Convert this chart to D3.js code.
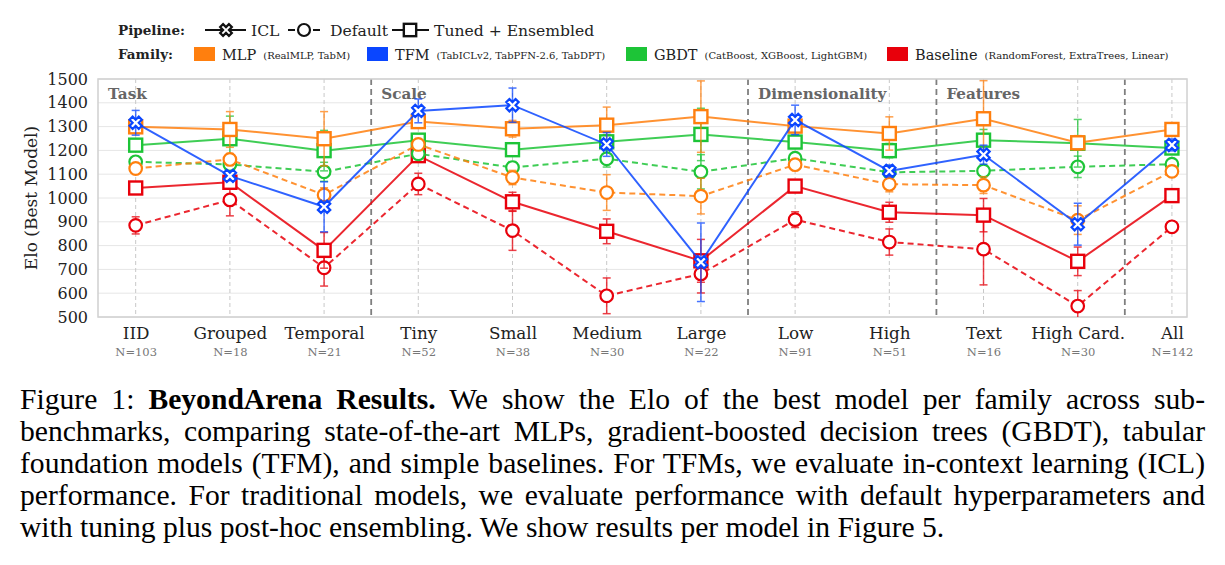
<!DOCTYPE html>
<html>
<head>
<meta charset="utf-8">
<script src="https://cdn.jsdelivr.net/npm/d3@7"></script>
<style>
  body { margin: 0; background: #fff; }
  #wrap { position: relative; width: 1225px; height: 565px; overflow: hidden; }
  #chart { position: absolute; left: 0; top: 0; }
  #caption { position: absolute; left: 20px; top: 383px; width: 1185px;
    font-family: "Liberation Serif", "Times New Roman", serif; font-size: 29.6px; line-height: 32px; color: #000; }
  #caption div { text-align: justify; text-align-last: justify; white-space: nowrap; }
  #caption div.last { text-align-last: left; }
</style>
</head>
<body>
<div id="wrap">
  <svg id="chart" width="1225" height="380"></svg>
  <div id="caption">
    <div>Figure 1: <b>BeyondArena Results.</b> We show the Elo of the best model per family across sub-</div>
    <div>benchmarks, comparing state-of-the-art MLPs, gradient-boosted decision trees (GBDT), tabular</div>
    <div>foundation models (TFM), and simple baselines. For TFMs, we evaluate in-context learning (ICL)</div>
    <div>performance. For traditional models, we evaluate performance with default hyperparameters and</div>
    <div class="last">with tuning plus post-hoc ensembling. We show results per model in Figure 5.</div>
  </div>
</div>
<script>
// categories and sample counts
const categories = ["IID", "Grouped", "Temporal", "Tiny", "Small", "Medium", "Large", "Low", "High", "Text", "High Card.", "All"];
const counts = [103, 18, 21, 52, 38, 30, 22, 91, 51, 16, 30, 142];

// Elo values (value, +/- error)
const mlpTuned       = [1299, 1288, 1249, 1321, 1291, 1306, 1342, 1302, 1271, 1333, 1232, 1288];
const mlpTunedErr    = [20, 75, 114, 25, 35, 76, 150, 20, 70, 160, 30, 25];
const mlpDefault     = [1124, 1162, 1013, 1225, 1086, 1023, 1008, 1140, 1058, 1054, 907, 1112];
const mlpDefaultErr  = [20, 25, 30, 20, 30, 75, 75, 20, 32, 35, 60, 20];
const tfmIcl         = [1316, 1093, 963, 1366, 1390, 1225, 730, 1328, 1114, 1182, 890, 1223];
const tfmIclErr      = [52, 20, 105, 50, 72, 50, 165, 62, 25, 40, 88, 25];
const gbdtTuned      = [1222, 1249, 1199, 1243, 1203, 1236, 1267, 1235, 1199, 1243, 1230, 1210];
const gbdtTunedErr   = [15, 95, 85, 25, 25, 30, 110, 20, 30, 45, 100, 15];
const gbdtDefault    = [1152, 1141, 1110, 1186, 1128, 1165, 1110, 1167, 1108, 1114, 1131, 1142];
const gbdtDefaultErr = [15, 30, 40, 15, 25, 35, 72, 15, 25, 20, 45, 15];
const baseTuned      = [1042, 1066, 780, 1178, 984, 860, 736, 1050, 940, 928, 734, 1010];
const baseTunedErr   = [15, 20, 75, 20, 40, 52, 90, 25, 42, 70, 60, 15];
const baseDefault    = [885, 992, 707, 1059, 863, 589, 681, 909, 815, 785, 546, 879];
const baseDefaultErr = [36, 67, 77, 45, 83, 75, 80, 33, 55, 150, 65, 20];

const yTicks = [500, 600, 700, 800, 900, 1000, 1100, 1200, 1300, 1400, 1500];
const sections = [["Task", -0.4], ["Scale", 2.5], ["Dimensionality", 6.5], ["Features", 8.5]];
const dividers = [2.5, 6.5, 8.5, 10.5];

const families = [
  { name: "MLP", sub: "(RealMLP, TabM)", color: "#ff7f0e" },
  { name: "TFM", sub: "(TabICLv2, TabPFN-2.6, TabDPT)", color: "#0a46ff" },
  { name: "GBDT", sub: "(CatBoost, XGBoost, LightGBM)", color: "#1dc437" },
  { name: "Baseline", sub: "(RandomForest, ExtraTrees, Linear)", color: "#e8000b" }
];
const pipelines = [
  { name: "ICL", marker: "x", dash: null },
  { name: "Default", marker: "o", dash: "6,4" },
  { name: "Tuned + Ensembled", marker: "s", dash: null }
];

// drawing order: baseline first, TFM on top
const series = [
  { fam: 3, pipe: 1, vals: baseDefault, err: baseDefaultErr },
  { fam: 3, pipe: 2, vals: baseTuned, err: baseTunedErr },
  { fam: 2, pipe: 1, vals: gbdtDefault, err: gbdtDefaultErr },
  { fam: 2, pipe: 2, vals: gbdtTuned, err: gbdtTunedErr },
  { fam: 0, pipe: 1, vals: mlpDefault, err: mlpDefaultErr },
  { fam: 0, pipe: 2, vals: mlpTuned, err: mlpTunedErr },
  { fam: 1, pipe: 0, vals: tfmIcl, err: tfmIclErr }
];

const serif = "'DejaVu Serif', serif";
const plotL = 98, plotR = 1187, plotT = 79, plotB = 317;

const svg = d3.select("#chart");

const x = d3.scaleLinear().domain([-0.4, 11.16]).range([plotL, plotR]);
const y = d3.scaleLinear().domain([500, 1500]).range([plotB, plotT]);

// grid
svg.append("g").selectAll("line").data(yTicks).enter().append("line")
  .attr("x1", plotL).attr("x2", plotR)
  .attr("y1", d => y(d)).attr("y2", d => y(d))
  .attr("stroke", "#e6e6e6").attr("stroke-width", 1);

svg.append("g").selectAll("line").data(d3.range(categories.length)).enter().append("line")
  .attr("x1", d => x(d)).attr("x2", d => x(d))
  .attr("y1", plotT).attr("y2", plotB)
  .attr("stroke", "#c8c8c8").attr("stroke-width", 1).attr("stroke-dasharray", "4,3");

// section dividers
svg.append("g").selectAll("line").data(dividers).enter().append("line")
  .attr("x1", d => x(d)).attr("x2", d => x(d))
  .attr("y1", plotT).attr("y2", plotB)
  .attr("stroke", "#7f7f7f").attr("stroke-width", 1.8).attr("stroke-dasharray", "6,4");

svg.append("g").selectAll("text").data(sections).enter().append("text")
  .attr("x", d => x(d[1]) + 10).attr("y", plotT + 20)
  .style("font", "bold 15.2px " + serif).attr("fill", "#666")
  .text(d => d[0]);

// frame
svg.append("rect")
  .attr("x", plotL).attr("y", plotT).attr("width", plotR - plotL).attr("height", plotB - plotT)
  .attr("fill", "none").attr("stroke", "#d0d0d0").attr("stroke-width", 1.5);

// y axis
const yAxis = svg.append("g")
  .attr("transform", "translate(" + plotL + ",0)")
  .call(d3.axisLeft(y).tickValues(yTicks).tickSize(0).tickPadding(10).tickFormat(d3.format("d")));
yAxis.select(".domain").remove();
yAxis.selectAll("text").style("font", "16px " + serif).attr("fill", "#222");

svg.append("text")
  .attr("transform", "translate(37," + ((plotT + plotB) / 2) + ") rotate(-90)")
  .attr("text-anchor", "middle")
  .style("font", "17px " + serif).attr("fill", "#222")
  .text("Elo (Best Model)");

// x axis with N= sub labels
const xAxis = svg.append("g")
  .attr("transform", "translate(0," + plotB + ")")
  .call(d3.axisBottom(x).tickValues(d3.range(categories.length)).tickSize(0).tickPadding(10)
    .tickFormat(i => categories[i]));
xAxis.select(".domain").remove();
xAxis.selectAll("text").style("font", "16.8px " + serif).attr("fill", "#222");
xAxis.selectAll(".tick").append("text")
  .attr("y", 39).attr("fill", "#777")
  .style("font", "11.5px " + serif)
  .text(i => "N=" + counts[i]);

// marker helper
function drawMarker(g, type, color, cx, cy, scale) {
  const k = scale || 1;
  if (type === "s") {
    g.append("rect")
      .attr("x", cx - 6.5 * k).attr("y", cy - 6.5 * k)
      .attr("width", 13 * k).attr("height", 13 * k)
      .attr("fill", "#fff").attr("stroke", color).attr("stroke-width", 2.4);
  } else if (type === "o") {
    g.append("circle")
      .attr("cx", cx).attr("cy", cy).attr("r", 6.3 * k)
      .attr("fill", "#fff").attr("stroke", color).attr("stroke-width", 2.2);
  } else {
    g.append("path")
      .attr("d", d3.symbol(d3.symbolCross, 95 * k * k)())
      .attr("transform", "translate(" + cx + "," + cy + ") rotate(45)")
      .attr("fill", "#fff").attr("stroke", color).attr("stroke-width", 2.2)
      .attr("stroke-linejoin", "miter");
  }
}

const line = d3.line().x((d, i) => x(i)).y(d => y(d));

series.forEach(s => {
  const color = families[s.fam].color;
  const pipe = pipelines[s.pipe];
  const g = svg.append("g");

  // error bars
  const eb = g.append("g").attr("stroke", color).attr("stroke-width", 1.5).attr("opacity", 0.75);
  s.vals.forEach((v, i) => {
    const x0 = x(i), y1 = y(v + s.err[i]), y2 = y(Math.max(500, v - s.err[i]));
    eb.append("line").attr("x1", x0).attr("x2", x0).attr("y1", y1).attr("y2", y2);
    eb.append("line").attr("x1", x0 - 4).attr("x2", x0 + 4).attr("y1", y1).attr("y2", y1);
    if (v - s.err[i] >= 500) {
      eb.append("line").attr("x1", x0 - 4).attr("x2", x0 + 4).attr("y1", y2).attr("y2", y2);
    }
  });

  g.append("path")
    .attr("d", line(s.vals))
    .attr("fill", "none").attr("stroke", color).attr("stroke-width", 2)
    .attr("stroke-opacity", 0.85)
    .attr("stroke-dasharray", pipe.dash);

  s.vals.forEach((v, i) => drawMarker(g, pipe.marker, color, x(i), y(v)));
});

// legend: pipeline row
const legend = svg.append("g");
legend.append("text").attr("x", 118).attr("y", 35)
  .style("font", "bold 13.5px " + serif).attr("fill", "#222").text("Pipeline:");

const pipeLegend = [
  { p: 0, x1: 205, x2: 246, mx: 226, tx: 251 },
  { p: 1, x1: 288, x2: 320, mx: 304, tx: 330 },
  { p: 2, x1: 392, x2: 429, mx: 410, tx: 434 }
];
pipeLegend.forEach(d => {
  const pipe = pipelines[d.p];
  if (pipe.dash) {
    legend.append("line").attr("x1", d.x1).attr("x2", d.x1 + 7).attr("y1", 30).attr("y2", 30)
      .attr("stroke", "#111").attr("stroke-width", 2);
    legend.append("line").attr("x1", d.x2 - 7).attr("x2", d.x2).attr("y1", 30).attr("y2", 30)
      .attr("stroke", "#111").attr("stroke-width", 2);
  } else {
    legend.append("line").attr("x1", d.x1).attr("x2", d.x2).attr("y1", 30).attr("y2", 30)
      .attr("stroke", "#111").attr("stroke-width", 2);
  }
  drawMarker(legend, pipe.marker, "#111", d.mx, 30, 0.95);
  legend.append("text").attr("x", d.tx).attr("y", 35.5)
    .style("font", "15.6px " + serif).attr("fill", "#222").text(pipe.name);
});

// legend: family row
legend.append("text").attr("x", 118).attr("y", 59)
  .style("font", "bold 13.5px " + serif).attr("fill", "#222").text("Family:");

const swatchX = [194, 367, 626, 887];
families.forEach((f, i) => {
  legend.append("rect").attr("x", swatchX[i]).attr("y", 47).attr("width", 21).attr("height", 14)
    .attr("fill", f.color);
  const t = legend.append("text").attr("x", swatchX[i] + 28).attr("y", 60)
    .style("font", "14.5px " + serif)
    .attr("fill", "#222").text(f.name);
  const w = t.node().getComputedTextLength();
  legend.append("text").attr("x", swatchX[i] + 28 + w + 7).attr("y", 59)
    .style("font", "10px " + serif).attr("fill", "#222").text(f.sub);
});
</script>
</body>
</html>
